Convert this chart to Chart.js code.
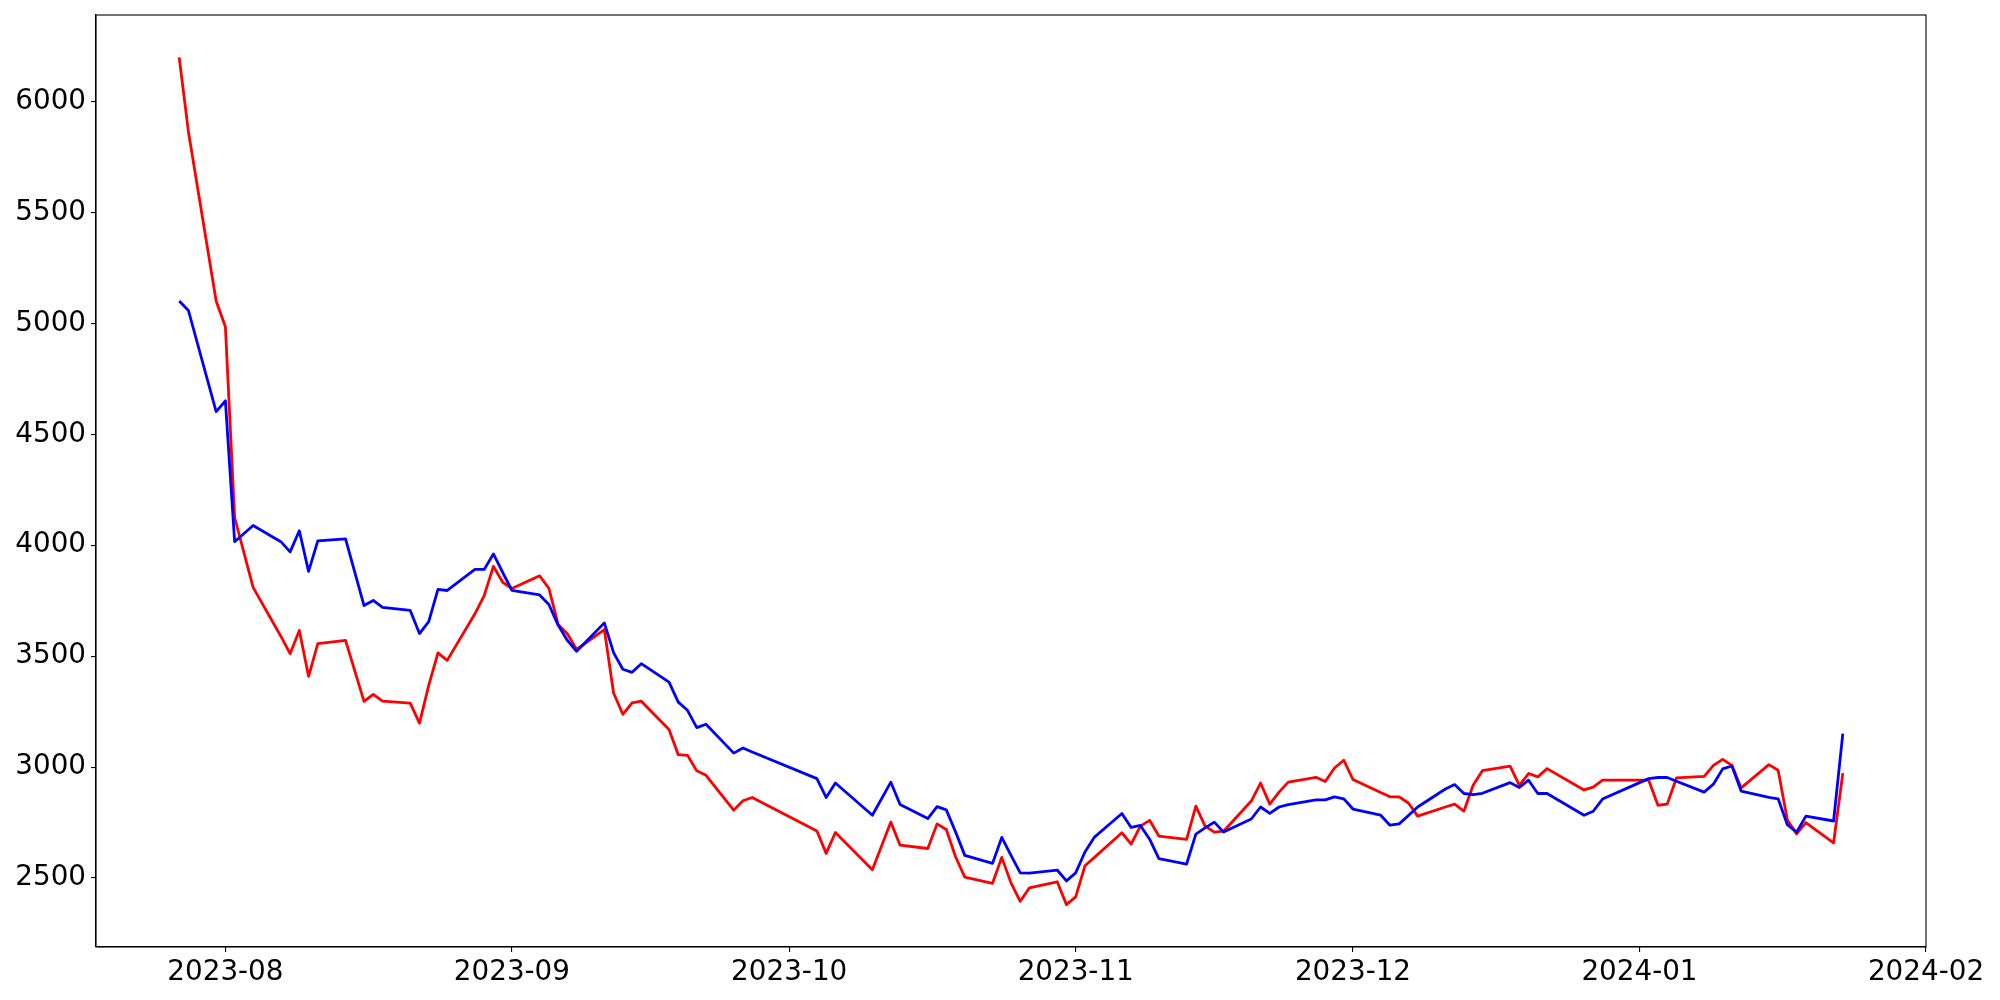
<!DOCTYPE html>
<html><head><meta charset="utf-8">
<script src="https://cdn.jsdelivr.net/npm/chart.js@4.4.1/dist/chart.umd.min.js"></script>
<style>html,body{margin:0;padding:0;background:#fff;} canvas{display:block;}</style>
</head><body>
<canvas id="c" width="2000" height="1000" style="width:2000px;height:1000px"></canvas>
<script>
const dates = [
 '2023-07-27','2023-07-28','2023-07-31',
 '2023-08-01','2023-08-02','2023-08-04','2023-08-07','2023-08-08','2023-08-09','2023-08-10','2023-08-11','2023-08-14','2023-08-16','2023-08-17','2023-08-18','2023-08-21','2023-08-22','2023-08-23','2023-08-24','2023-08-25','2023-08-28','2023-08-29','2023-08-30','2023-08-31',
 '2023-09-01','2023-09-04','2023-09-05','2023-09-06','2023-09-07','2023-09-08','2023-09-11','2023-09-12','2023-09-13','2023-09-14','2023-09-15','2023-09-18','2023-09-19','2023-09-20','2023-09-21','2023-09-22','2023-09-25','2023-09-26','2023-09-27',
 '2023-10-04','2023-10-05','2023-10-06','2023-10-10','2023-10-12','2023-10-13','2023-10-16','2023-10-17','2023-10-18','2023-10-19','2023-10-20','2023-10-23','2023-10-24','2023-10-25','2023-10-26','2023-10-27','2023-10-30','2023-10-31',
 '2023-11-01','2023-11-02','2023-11-03','2023-11-06','2023-11-07','2023-11-08','2023-11-09','2023-11-10','2023-11-13','2023-11-14','2023-11-15','2023-11-16','2023-11-17','2023-11-20','2023-11-21','2023-11-22','2023-11-23','2023-11-24','2023-11-27','2023-11-28','2023-11-29','2023-11-30',
 '2023-12-01','2023-12-04','2023-12-05','2023-12-06','2023-12-07','2023-12-08','2023-12-11','2023-12-12','2023-12-13','2023-12-14','2023-12-15','2023-12-18','2023-12-19','2023-12-20','2023-12-21','2023-12-22','2023-12-26','2023-12-27','2023-12-28',
 '2024-01-02','2024-01-03','2024-01-04','2024-01-05','2024-01-08','2024-01-09','2024-01-10','2024-01-11','2024-01-12','2024-01-15','2024-01-16','2024-01-17','2024-01-18','2024-01-19','2024-01-22','2024-01-23'
];
const redValues = [
 6199,5864,5101,
 4985,4125,3810,3590,3511,3616,3409,3556,3571,3296,3328,3297,3288,3198,3368,3515,3481,3691,3773,3905,3833,
 3805,3862,3806,3643,3601,3530,3620,3334,3238,3289,3297,3169,3056,3053,2983,2963,2806,2848,2863,
 2712,2611,2705,2537,2752,2648,2633,2744,2719,2596,2504,2476,2593,2478,2395,2456,2483,2380,
 2415,2555,2592,2704,2653,2734,2760,2689,2674,2824,2734,2707,2711,2847,2928,2833,2887,2932,2954,2935,2996,3031,
 2944,2885,2866,2866,2838,2779,2820,2833,2801,2918,2984,3004,2918,2971,2956,2993,2897,2910,2941,
 2941,2828,2833,2951,2958,3008,3035,3008,2906,3011,2986,2761,2699,2750,2658,2973
];
const blueValues = [
 5101,5058,4602,
 4651,4016,4089,4016,3970,4065,3882,4020,4029,3728,3751,3720,3706,3602,3656,3801,3796,3891,3891,3961,3878,
 3796,3776,3733,3640,3571,3522,3650,3516,3441,3427,3466,3383,3293,3256,3178,3193,3063,3086,3068,
 2948,2863,2928,2783,2932,2831,2768,2822,2807,2708,2602,2566,2683,2602,2523,2522,2536,2487,
 2523,2617,2683,2791,2728,2737,2675,2587,2563,2698,2726,2752,2707,2766,2820,2791,2820,2831,2852,2852,2866,2857,
 2811,2783,2738,2744,2782,2820,2901,2921,2881,2876,2882,2930,2908,2941,2881,2881,2783,2801,2856,
 2948,2953,2953,2936,2887,2923,2992,3005,2892,2863,2857,2740,2707,2779,2757,3151
];
const yTickValues = [2500,3000,3500,4000,4500,5000,5500,6000];
const xTickLabels = ['2023-08','2023-09','2023-10','2023-11','2023-12','2024-01','2024-02'];

const DAY = 86400000;
const toDay = s => Date.UTC(+s.slice(0,4), +s.slice(5,7)-1, +(s.slice(8,10)||'01')) / DAY;
const xs = dates.map(toDay);
const xTickValues = xTickLabels.map(l => toDay(l + '-01'));
const xMinD = Math.min(...xs), xMaxD = Math.max(...xs);
const xPad = (xMaxD - xMinD) * 0.05;
const allY = redValues.concat(blueValues);
const yMinD = Math.min(...allY), yMaxD = Math.max(...allY);
const yPad = (yMaxD - yMinD) * 0.05;

const frame = {
  id: 'frame',
  afterDraw(chart) {
    const {ctx, chartArea: a} = chart;
    ctx.save();
    ctx.strokeStyle = '#000';
    ctx.lineWidth = 1.1;
    ctx.strokeRect(a.left, a.top, a.right - a.left, a.bottom - a.top);
    ctx.restore();
  }
};

const font = {family: 'DejaVu Sans', size: 27.8};
const gridOpts = {drawOnChartArea: false, drawTicks: true, tickLength: 5, color: '#000', lineWidth: 1.1};
const borderOpts = {display: true, color: '#000', width: 1.1};

new Chart(document.getElementById('c').getContext('2d'), {
  type: 'line',
  data: {
    datasets: [
      {label: 'blue', data: xs.map((x, i) => ({x, y: blueValues[i]})), borderColor: '#0000ff', backgroundColor: '#0000ff', borderWidth: 2.8, pointRadius: 0, tension: 0, fill: false, borderJoinStyle: 'round', borderCapStyle: 'butt'},
      {label: 'red', data: xs.map((x, i) => ({x, y: redValues[i]})), borderColor: '#ff0000', backgroundColor: '#ff0000', borderWidth: 2.8, pointRadius: 0, tension: 0, fill: false, borderJoinStyle: 'round', borderCapStyle: 'butt'}
    ]
  },
  options: {
    responsive: false,
    animation: false,
    devicePixelRatio: 1,
    layout: {padding: {left: 0, right: 74, top: 15, bottom: 0}},
    plugins: {legend: {display: false}, tooltip: {enabled: false}},
    scales: {
      x: {
        type: 'linear',
        min: xMinD - xPad,
        max: xMaxD + xPad,
        afterBuildTicks: s => { s.ticks = xTickValues.map(v => ({value: v})); },
        afterFit: s => { s.height = 53; s.paddingLeft = 0; s.paddingRight = 0; },
        grid: gridOpts,
        border: borderOpts,
        ticks: {callback: (v, i) => xTickLabels[i], font, color: '#000', padding: 4, maxRotation: 0, autoSkip: false}
      },
      y: {
        type: 'linear',
        min: yMinD - yPad,
        max: yMaxD + yPad,
        afterBuildTicks: s => { s.ticks = yTickValues.map(v => ({value: v})); },
        afterFit: s => { s.width = 96; s.paddingTop = 0; s.paddingBottom = 0; },
        grid: gridOpts,
        border: borderOpts,
        ticks: {callback: v => String(v), font, color: '#000', padding: 5}
      }
    }
  },
  plugins: [frame]
});
</script>
</body></html>
